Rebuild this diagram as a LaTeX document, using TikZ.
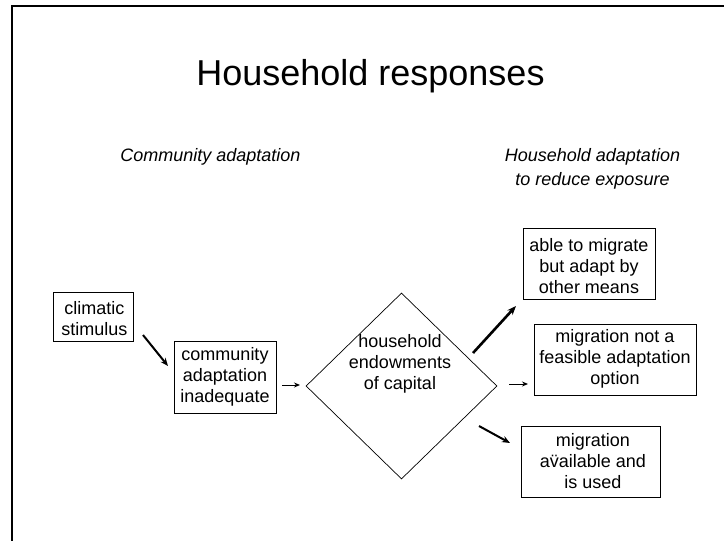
\documentclass[tikz,border=0pt]{standalone}
\usepackage{fontspec}
\setmainfont{Liberation Sans}
\usetikzlibrary{arrows.meta,shapes.geometric}
\begin{document}
\begin{tikzpicture}[x=1pt,y=-1pt,
  box/.style={draw=black,line width=0.9pt,inner sep=0pt,align=center,
    font=\fontsize{18}{21}\selectfont},
  heading/.style={font=\fontsize{18}{24}\selectfont\itshape,align=center,inner sep=0pt},
  flow/.style={-{Stealth[length=6pt,width=5pt]},line width=1pt},
  boldflow/.style={-{Stealth[length=8pt,width=6.5pt]},line width=2pt},
  heavyflow/.style={-{Stealth[length=9pt,width=7pt]},line width=2.6pt}]
\useasboundingbox (0,0) rectangle (724,541);
% page frame (left and top edges)
\draw[line width=1.2pt] (12,541) -- (12,6) -- (724,6);

% title and column headings
\node[anchor=base,inner sep=0pt,font=\fontsize{36}{40}\selectfont] (title) at (370.5,85) {Household responses};
\node[heading] (hcomm) at (210.5,157) {Community adaptation};
\node[heading] (hhouse) at (592.5,169) {Household adaptation\\to reduce exposure};

% left chain
\node[box,minimum width=80pt,minimum height=49pt] (clim) at (93,316.5) {};
\node[box,draw=none] (climt) at (94.5,318.5) {climatic\\stimulus};
\node[box,minimum width=102pt,minimum height=72pt] (comm) at (225,377) {};
\node[box,draw=none] (commt) at (225,377) {community\\adaptation\\inadequate};

% decision diamond
\node[diamond,draw=black,line width=0.7pt,inner sep=0pt,minimum width=191pt,minimum height=186pt] (endow) at (401.5,386) {};
\node[box,draw=none] (endowt) at (400,364) {household\\endowments\\of capital};

% outcomes
\node[box,minimum width=132pt,minimum height=71pt] (opt1) at (589,263.5) {};
\node[box,draw=none] (opt1t) at (589,266) {able to migrate\\but adapt by\\other means};
\node[box,minimum width=162pt,minimum height=71pt] (opt2) at (615,359.5) {};
\node[box,draw=none] (opt2t) at (615,359) {migration not a\\feasible adaptation\\option};
\node[box,minimum width=139pt,minimum height=71pt] (opt3) at (590.5,461.5) {};
\node[box,draw=none] (opt3t) at (593,461) {migration\hspace{52pt}\\a\"{v}ailable and\\is used};

% free-standing arrows between the blocks
\coordinate (a1s) at (143,335); \coordinate (a1e) at (168,366);
\coordinate (a2s) at (282,385); \coordinate (a2e) at (300,385);
\coordinate (a3s) at (473,353); \coordinate (a3e) at (516,306);
\coordinate (a4s) at (509,384); \coordinate (a4e) at (528,384);
\coordinate (a5s) at (479,426); \coordinate (a5e) at (510,443);
\draw[boldflow] (a1s) -- (a1e);
\draw[flow] (a2s) -- (a2e);
\draw[heavyflow] (a3s) -- (a3e);
\draw[flow] (a4s) -- (a4e);
\draw[boldflow] (a5s) -- (a5e);
\end{tikzpicture}
\end{document}
